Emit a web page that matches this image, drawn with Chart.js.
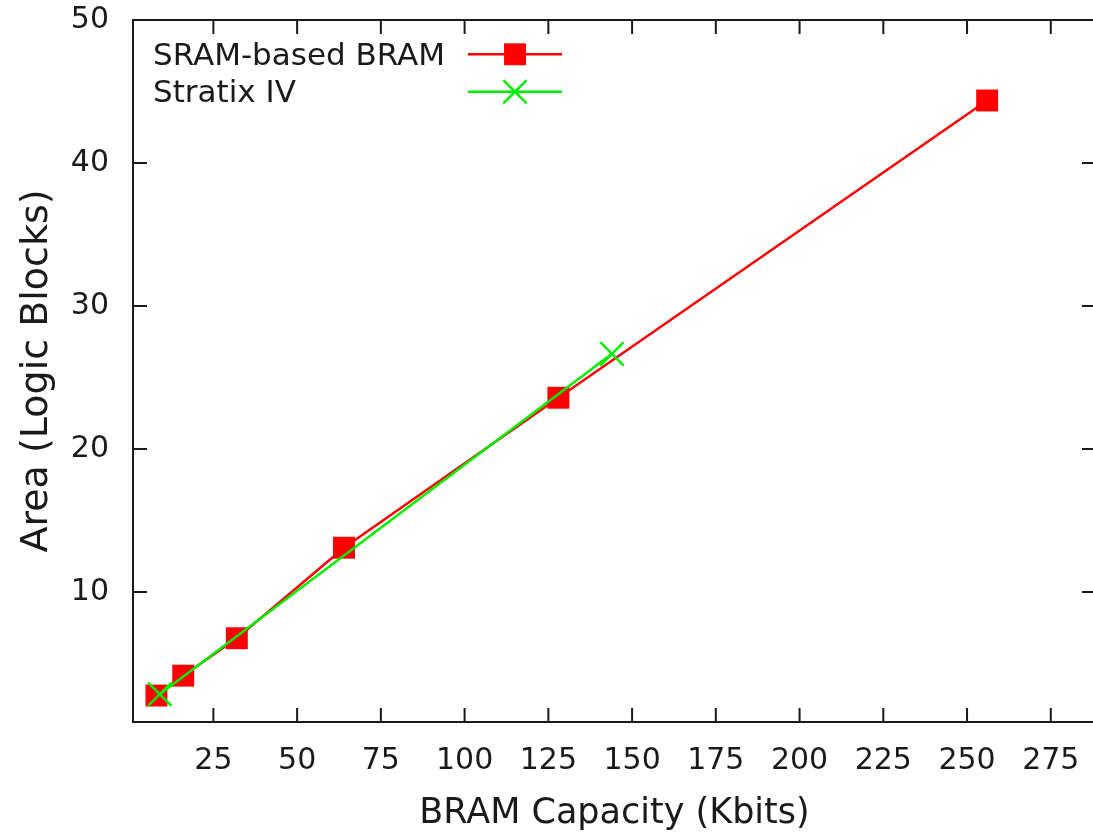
<!DOCTYPE html>
<html>
<head>
<meta charset="utf-8">
<script src="https://cdn.jsdelivr.net/npm/chart.js@4/dist/chart.umd.min.js"></script>
<style>
  html, body { margin: 0; padding: 0; background: #ffffff; overflow: hidden; }
  #wrap { position: relative; width: 1115px; height: 836px; }
  canvas { display: block; }
</style>
</head>
<body>
<div id="wrap"><canvas id="chart" width="1115" height="836"></canvas></div>
<script>
// Block RAM area versus capacity
const seriesNames = ['SRAM-based BRAM', 'Stratix IV'];
const sramCapacity = [8, 16, 32, 64, 128, 256];          // Kbits
const sramArea = [2.75, 4.14, 6.76, 13.09, 23.58, 44.37];  // logic blocks
const stratixCapacity = [9, 144];                          // Kbits (M9K, M144K)
const stratixArea = [2.84, 26.65];                         // logic blocks
const xTickValues = [25, 50, 75, 100, 125, 150, 175, 200, 225, 250, 275];
const yTickValues = [10, 20, 30, 40, 50];
const xTitle = 'BRAM Capacity (Kbits)';
const yTitle = 'Area (Logic Blocks)';

const RED = '#ff0000';
const GREEN = '#00ee00';
const INK = '#1a1a1a';
const FONT = "'DejaVu Sans', 'Liberation Sans', sans-serif";

function toPoints(xs, ys) { return xs.map((x, i) => ({ x: x, y: ys[i] })); }

// Drop the label overhang padding so the plot box spans the laid-out area
function noOverhang(scale) {
  scale.paddingTop = 0; scale.paddingBottom = 0;
  scale.paddingLeft = 0; scale.paddingRight = 0;
}

// Closed frame with inward ticks on all four sides
const framePlugin = {
  id: 'frame',
  beforeDatasetsDraw(chart) {
    const { ctx, chartArea: a, scales } = chart;
    const tick = 14;
    ctx.save();
    ctx.strokeStyle = INK;
    ctx.lineWidth = 2;
    ctx.strokeRect(a.left, a.top, a.right - a.left, a.bottom - a.top);
    ctx.beginPath();
    scales.x.ticks.forEach(t => {
      const px = scales.x.getPixelForValue(t.value);
      ctx.moveTo(px, a.bottom); ctx.lineTo(px, a.bottom - tick);
      ctx.moveTo(px, a.top); ctx.lineTo(px, a.top + tick);
    });
    scales.y.ticks.forEach(t => {
      const py = scales.y.getPixelForValue(t.value);
      ctx.moveTo(a.left, py); ctx.lineTo(a.left + tick, py);
      ctx.moveTo(a.right, py); ctx.lineTo(a.right - tick, py);
    });
    ctx.stroke();
    ctx.restore();
  }
};

// Key in the upper-left corner: label text, then a line sample with its marker
const keyPlugin = {
  id: 'key',
  afterDraw(chart) {
    const { ctx } = chart;
    const textX = 153, lineX0 = 468, lineX1 = 562;
    const rows = [{ mid: 54.3, base: 65 }, { mid: 91.7, base: 101.7 }];
    ctx.save();
    chart.data.datasets.forEach((ds, i) => {
      const r = rows[i];
      ctx.font = '31px ' + FONT;
      ctx.fillStyle = INK;
      ctx.textAlign = 'left';
      ctx.textBaseline = 'alphabetic';
      ctx.fillText(ds.label, textX, r.base);
      ctx.strokeStyle = ds.borderColor;
      ctx.lineWidth = ds.borderWidth;
      ctx.beginPath();
      ctx.moveTo(lineX0, r.mid); ctx.lineTo(lineX1, r.mid);
      ctx.stroke();
      ctx.fillStyle = ds.pointBackgroundColor;
      ctx.strokeStyle = ds.pointBorderColor;
      ctx.lineWidth = ds.pointBorderWidth;
      Chart.helpers.drawPoint(ctx, {
        pointStyle: ds.pointStyle, radius: ds.pointRadius,
        borderWidth: ds.pointBorderWidth, rotation: 0
      }, (lineX0 + lineX1) / 2, r.mid);
    });
    ctx.restore();
  }
};

new Chart(document.getElementById('chart'), {
  type: 'line',
  data: {
    datasets: [
      {
        label: seriesNames[0],
        data: toPoints(sramCapacity, sramArea),
        borderColor: RED,
        backgroundColor: RED,
        borderWidth: 2.5,
        pointStyle: 'rect',
        pointRadius: 15.5,
        pointBackgroundColor: RED,
        pointBorderColor: RED,
        pointBorderWidth: 0,
        tension: 0,
        fill: false,
        order: 1
      },
      {
        label: seriesNames[1],
        data: toPoints(stratixCapacity, stratixArea),
        borderColor: GREEN,
        backgroundColor: GREEN,
        borderWidth: 2.5,
        pointStyle: 'crossRot',
        pointRadius: 16.5,
        pointBackgroundColor: GREEN,
        pointBorderColor: GREEN,
        pointBorderWidth: 2.5,
        tension: 0,
        fill: false,
        order: 0
      }
    ]
  },
  options: {
    responsive: false,
    animation: false,
    devicePixelRatio: 1,
    layout: { padding: { top: 20, right: 4, bottom: 0, left: 0 } },
    plugins: { legend: { display: false }, tooltip: { enabled: false } },
    elements: { line: { tension: 0 } },
    scales: {
      x: {
        type: 'linear',
        min: 1,
        max: 288.5,
        afterBuildTicks(scale) { scale.ticks = xTickValues.map(v => ({ value: v })); },
        afterFit(scale) { scale.height = 114; noOverhang(scale); },
        grid: { display: false, drawTicks: false },
        border: { display: false },
        ticks: {
          autoSkip: false, maxRotation: 0, minRotation: 0, padding: 21,
          color: INK, font: { family: FONT, size: 30 }
        },
        title: {
          display: true, text: xTitle, color: INK,
          font: { family: FONT, size: 35 },
          padding: { top: 0, bottom: 1 }
        }
      },
      y: {
        type: 'linear',
        min: 0.9,
        max: 50,
        afterBuildTicks(scale) { scale.ticks = yTickValues.map(v => ({ value: v })); },
        afterFit(scale) { scale.width = 133; noOverhang(scale); },
        grid: { display: false, drawTicks: false },
        border: { display: false },
        ticks: {
          padding: 24, color: INK, font: { family: FONT, size: 30 }
        },
        title: {
          display: true, text: yTitle, color: INK,
          font: { family: FONT, size: 38 },
          padding: { top: 14, bottom: 0 }
        }
      }
    }
  },
  plugins: [framePlugin, keyPlugin]
});
</script>
</body>
</html>
